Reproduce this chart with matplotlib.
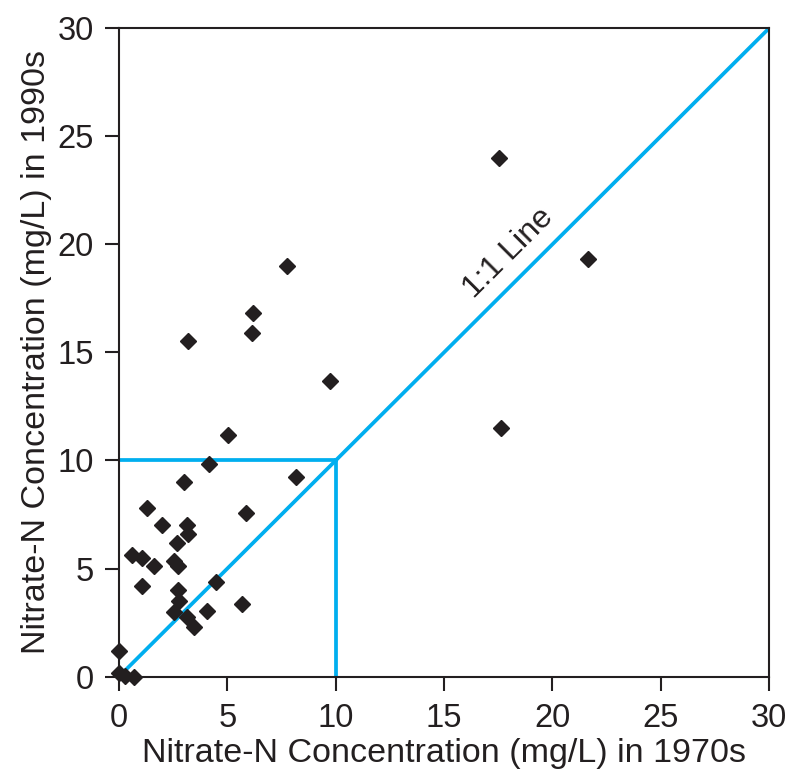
import matplotlib
matplotlib.use('Agg')
import matplotlib.pyplot as plt
import numpy as np

plt.rcParams['font.family'] = ['Liberation Sans', 'DejaVu Sans']

# nitrate-N concentration, 1970s (x) vs 1990s (y), mg/L
x_1970s = [5.05, 4.15, 3.0, 8.15, 1.31, 1.97, 3.15, 3.2, 5.88, 2.69,
           0.62, 1.08, 1.62, 2.54, 2.74, 1.08, 2.74, 2.77, 4.49, 5.69,
           2.54, 3.15, 4.08, 3.46, 0.0, 0.0, 0.3, 0.7,
           7.74, 6.18, 6.12, 3.18, 9.74, 17.54, 21.66, 17.61]
y_1990s = [11.18, 9.82, 9.02, 9.25, 7.82, 7.01, 7.01, 6.6, 7.55, 6.2,
           5.62, 5.47, 5.13, 5.36, 5.13, 4.19, 4.0, 3.51, 4.36, 3.36,
           2.97, 2.77, 3.05, 2.28, 1.2, 0.15, 0.02, 0.0,
           19.02, 16.81, 15.9, 15.55, 13.69, 23.99, 19.31, 11.49]

ticks = [0, 5, 10, 15, 20, 25, 30]
blue = '#00AEEF'
ink = '#231F20'

fig = plt.figure(figsize=(7.88, 7.84), dpi=100)
ax = fig.add_axes([0.151, 0.137, 0.825, 0.827])

# 1:1 line and the 10 mg/L guide lines
ax.plot([0, 30], [0, 30], color=blue, lw=2.7, zorder=2)
ax.plot([0, 10], [10, 10], color=blue, lw=2.7, zorder=2)
ax.plot([10, 10], [0, 10], color=blue, lw=2.7, zorder=2)

ax.plot(x_1970s, y_1990s, 'D', color=ink, ms=8.3, zorder=3, clip_on=False)

ax.text(18.0, 19.6, '1:1 Line', rotation=45, ha='center', va='center',
        fontsize=23, color=ink)

ax.set_xlim(0, 30)
ax.set_ylim(0, 30)
ax.set_xticks(ticks)
ax.set_yticks(ticks)
ax.tick_params(direction='out', length=10, width=1.5, labelsize=23.5,
               colors=ink)
ax.tick_params(axis='x', pad=9)
ax.tick_params(axis='y', pad=8)
for s in ax.spines.values():
    s.set_linewidth(1.5)
    s.set_color(ink)

ax.set_xlabel('Nitrate-N Concentration (mg/L) in 1970s', fontsize=24.5,
              color=ink, labelpad=3)
ax.set_ylabel('Nitrate-N Concentration (mg/L) in 1990s', fontsize=24.5,
              color=ink, labelpad=4)

fig.savefig('out.png', dpi=100)
